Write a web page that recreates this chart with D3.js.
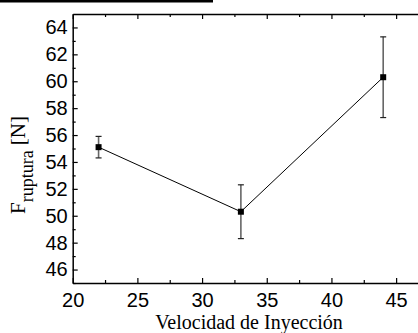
<!DOCTYPE html>
<html>
<head>
<meta charset="utf-8">
<script src="https://cdn.jsdelivr.net/npm/d3@7"></script>
<style>
  body { margin: 0; background: #fff; }
  svg { display: block; }
</style>
</head>
<body>
<div id="chart"></div>
<script>
// values
var velocidad = [22, 33, 44];
var fuerza = [55.1, 50.3, 60.3];
var errores = [0.8, 2.0, 3.0];
var xTicks = [20, 25, 30, 35, 40, 45];
var yTicks = [46, 48, 50, 52, 54, 56, 58, 60, 62, 64];

var w = 418, h = 333;
var margin = {top: 14, right: -4, bottom: 50, left: 72.7};
var width = w - margin.left - margin.right;
var height = h - margin.top - margin.bottom;

var svg = d3.select('#chart')
  .append('svg')
  .attr('width', w)
  .attr('height', h);

// dark strip on the top edge of the original image
svg.append('rect')
  .attr('x', 0).attr('y', 0)
  .attr('width', 213).attr('height', 2.5)
  .attr('fill', '#000');

var chart = svg.append('g')
  .attr('transform', 'translate(' + margin.left + ',' + margin.top + ')');

var x = d3.scaleLinear().domain([20, 47]).range([0, width]);
var y = d3.scaleLinear().domain([45, 65]).range([height, 0]);

var xMinor = d3.range(22.5, 47, 5);
var yMinor = d3.range(45, 65, 2);

function styleAxis(g) {
  g.select('.domain').attr('stroke-width', 1.5);
  g.selectAll('.tick line').attr('stroke-width', 1.2);
  g.selectAll('text')
    .style('font-family', 'Liberation Sans, Arial, sans-serif')
    .style('font-size', '20px')
    .attr('fill', '#000');
}

// bottom axis, ticks pointing inward
chart.append('g')
  .attr('transform', 'translate(0,' + height + ')')
  .call(d3.axisBottom(x).tickValues(xTicks).tickSizeInner(-5).tickSizeOuter(0).tickPadding(10))
  .call(styleAxis);
chart.append('g')
  .attr('transform', 'translate(0,' + height + ')')
  .call(d3.axisBottom(x).tickValues(xMinor).tickSizeInner(-3).tickSizeOuter(0).tickFormat(''))
  .call(function(g) { g.select('.domain').remove(); g.selectAll('.tick line').attr('stroke-width', 1.2); });

// top axis
chart.append('g')
  .call(d3.axisTop(x).tickValues(xTicks).tickSizeInner(-5).tickSizeOuter(0).tickFormat(''))
  .call(styleAxis);
chart.append('g')
  .call(d3.axisTop(x).tickValues(xMinor).tickSizeInner(-3).tickSizeOuter(0).tickFormat(''))
  .call(function(g) { g.select('.domain').remove(); g.selectAll('.tick line').attr('stroke-width', 1.2); });

// left axis
chart.append('g')
  .call(d3.axisLeft(y).tickValues(yTicks).tickSizeInner(-5).tickSizeOuter(0).tickPadding(5))
  .call(styleAxis);
chart.append('g')
  .call(d3.axisLeft(y).tickValues(yMinor).tickSizeInner(-3).tickSizeOuter(0).tickFormat(''))
  .call(function(g) { g.select('.domain').remove(); g.selectAll('.tick line').attr('stroke-width', 1.2); });

var points = velocidad.map(function(v, i) {
  return {x: v, y: fuerza[i], e: errores[i]};
});

// error bars
var bars = chart.append('g').classed('errors', true);
bars.selectAll('line.bar')
  .data(points)
  .enter().append('line')
  .attr('class', 'bar')
  .attr('x1', function(d) { return x(d.x); })
  .attr('x2', function(d) { return x(d.x); })
  .attr('y1', function(d) { return y(d.y - d.e); })
  .attr('y2', function(d) { return y(d.y + d.e); })
  .attr('stroke', '#666')
  .attr('stroke-width', 1.6);

['lo', 'hi'].forEach(function(side) {
  bars.selectAll('line.cap-' + side)
    .data(points)
    .enter().append('line')
    .attr('class', 'cap-' + side)
    .attr('x1', function(d) { return x(d.x) - 3; })
    .attr('x2', function(d) { return x(d.x) + 3; })
    .attr('y1', function(d) { return y(side == 'lo' ? d.y - d.e : d.y + d.e); })
    .attr('y2', function(d) { return y(side == 'lo' ? d.y - d.e : d.y + d.e); })
    .attr('stroke', '#222')
    .attr('stroke-width', 1.2);
});

// line
var valueline = d3.line()
  .x(function(d) { return x(d.x); })
  .y(function(d) { return y(d.y); });

chart.append('path')
  .datum(points)
  .attr('d', valueline)
  .attr('fill', 'none')
  .attr('stroke', '#000')
  .attr('stroke-width', 1);

// square markers
chart.selectAll('rect.pt')
  .data(points)
  .enter().append('rect')
  .attr('class', 'pt')
  .attr('x', function(d) { return x(d.x) - 3; })
  .attr('y', function(d) { return y(d.y) - 3; })
  .attr('width', 6)
  .attr('height', 6)
  .attr('fill', '#000');

// axis titles
svg.append('text')
  .attr('x', 249)
  .attr('y', 329)
  .attr('text-anchor', 'middle')
  .style('font-family', 'Liberation Serif, Times New Roman, serif')
  .style('font-size', '20px')
  .text('Velocidad de Inyección');

var yTitle = svg.append('text')
  .attr('transform', 'translate(25,165) rotate(-90)')
  .attr('text-anchor', 'middle')
  .style('font-family', 'Liberation Serif, Times New Roman, serif')
  .style('font-size', '21px');
yTitle.append('tspan').text('F');
yTitle.append('tspan').attr('dy', 8).style('font-size', '18px').text('ruptura');
yTitle.append('tspan').attr('dy', -8).text(' [N]');
</script>
</body>
</html>
